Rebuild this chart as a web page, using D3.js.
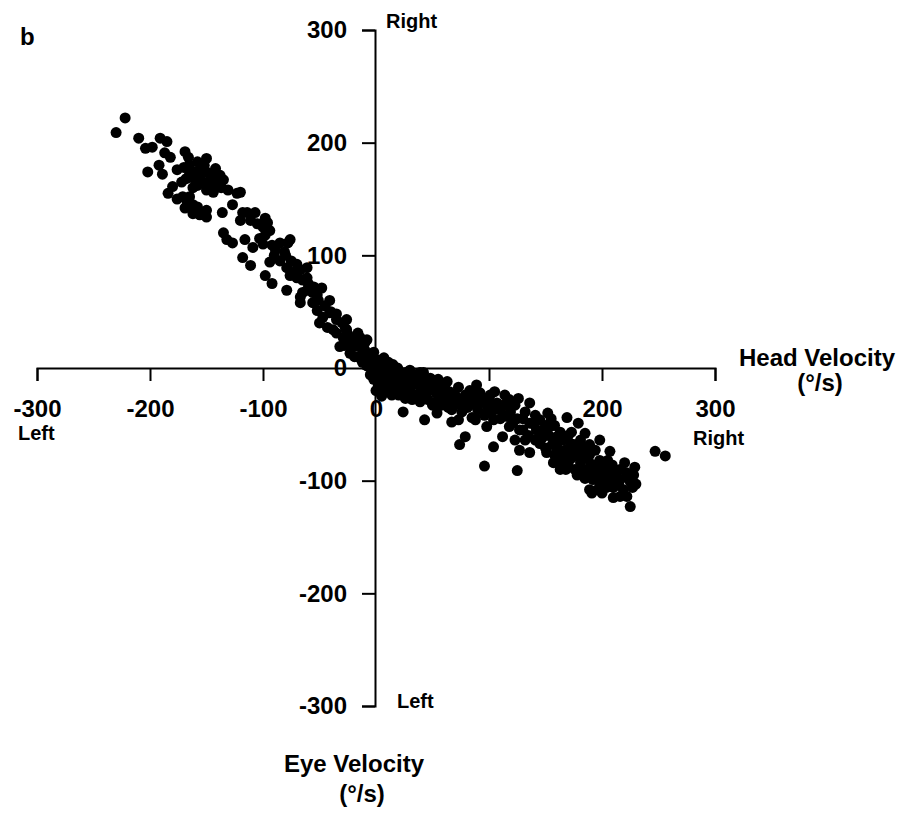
<!DOCTYPE html>
<html>
<head>
<meta charset="utf-8">
<script src="https://cdn.jsdelivr.net/npm/d3@7"></script>
<style>
  body { margin: 0; background: #fff; }
  text { font-family: "Liberation Sans", Arial, sans-serif; fill: #000; }
</style>
</head>
<body>
<div id="chart"></div>
<script>
// Head velocity (x) vs eye velocity (y), deg/s
const tickValues = [-300, -200, -100, 0, 100, 200, 300];

// head turning left, eye moving right
const leftArm = [
  [-230,209],[-222,222],[-210,204],[-204,195],[-198,196],[-191,204],[-185,201],[-187,191],[-182,187],
  [-169,192],[-166,187],[-192,180],[-202,174],[-189,172],[-176,176],[-172,165],[-165,180],[-160,174],
  [-158,183],[-150,186],[-163,169],[-156,169],[-153,164],[-147,167],[-142,177],[-138,171],[-135,167],
  [-150,158],[-144,156],[-131,158],[-123,155],[-120,156],[-184,155],[-180,161],[-171,152],[-167,147],
  [-162,145],[-158,143],[-169,142],[-162,137],[-156,136],[-150,134],[-127,145],[-136,138],[-118,138],
  [-120,131],[-153,137],[-114,138],[-107,138],[-111,131],[-98,133],[-96,129],[-100,125],[-94,122],
  [-135,120],[-132,114],[-127,111],[-116,114],[-109,107],[-103,115],[-98,118],[-92,109],[-89,105],
  [-85,111],[-78,111],[-81,103],[-76,114],[-118,98],[-111,91],[-94,94],[-98,82],[-92,75],[-79,89],
  [-73,85],[-67,87],[-61,89],[-70,80],[-61,80],[-76,82],[-79,69],[-67,63],[-61,69],[-56,67],[-48,71],
  [-51,60],[-41,60],[-65,67],[-67,58],[-56,58],[-52,51],[-47,45],[-41,49],[-50,40],[-43,36],[-38,34],
  [-35,43],[-26,43],[-26,34],[-29,27],[-32,19],[-20,19],[-14,27],[-8,25],[-12,16],[-23,13],[-17,10],
  [-16,31],[-14,10],[-8,9],[-35,31],[-27,35],
  [-170,178],[-165,172],[-160,168],[-155,176],[-150,174],[-145,170],[-140,165],[-152,180],[-158,162],
  [-148,160],[-162,160],[-168,168],[-143,162],[-137,160],[-176,150],[-165,152],[-160,140],[-150,140],
  [-105,128],[-100,110],[-90,100],[-85,95],[-80,100],[-75,95],[-70,92],[-65,78],[-60,75],[-55,72],
  [-52,65],[-45,55],[-40,50],[-35,48],[-30,40],[-25,30],[-20,25],[-15,20],[-10,22],[-22,22],[-28,20]
];

// dense cloud around the origin
const centerBlob = [
  [-10,16],[-5,12],[-4,5],[2,7],[5,3],[11,5],[15,3],[19,0],[8,-4],[12,-6],[4,-9],[17,-11],[21,-6],
  [26,-4],[30,-2],[35,-6],[39,-4],[30,-12],[37,-15],[43,-11],[48,-9],[21,-18],[28,-21],[35,-24],
  [41,-20],[48,-18],[52,-15],[57,-21],[61,-18],[65,-21],[70,-24],[55,-28],[46,-28],[39,-30],[32,-28],
  [50,-33],[61,-30],[74,-28],[79,-24],[83,-28],[88,-24],[92,-30],[81,-35],[90,-37],[98,-33],[76,-39],
  [67,-37],[-1,-2],[-7,3],[2,-15],[8,-20],[14,-24],[-14,20],[-19,10],[-12,5],[-5,-6],[17,-20],[26,-27],
  [83,-20],[101,-24],[105,-37],[96,-42],[85,-44],[73,-46],
  [0,0],[5,-3],[10,0],[14,-2],[3,2],[-3,8],[7,9],[20,-2],[24,-10],[28,-8],[33,-14],[40,-10],[45,-16],
  [53,-22],[58,-14],[63,-24],[68,-28],[72,-32],[77,-30],[85,-32],[95,-28],[10,-13],[15,-16],[20,-24],
  [25,-15],[30,-20],[38,-26],[44,-23],[58,-33],[64,-35],[55,-10],[42,-4],[1,-6],[6,-10],[-2,-10],
  [-8,2],[-2,14],[0,-20],[5,-25],[3,-10]
];

// head turning right, eye moving left
const rightArm = [
  [24,-39],[43,-46],[50,-11],[63,-12],[73,-17],[89,-15],[67,-48],[79,-61],[74,-68],[104,-70],[54,-40],
  [88,-46],[98,-52],[96,-87],[112,-61],[125,-91],[126,-27],[136,-31],[152,-40],[169,-44],[179,-49],
  [185,-58],[198,-64],[207,-74],[191,-111],[200,-111],[225,-123],[229,-88],[220,-84],[247,-74],
  [256,-78],[210,-106],[216,-114],[92,-22],[107,-31],[98,-40],[104,-46],[110,-37],[116,-43],[121,-49],
  [127,-55],[136,-49],[142,-55],[148,-58],[154,-52],[160,-61],[165,-64],[172,-67],[127,-73],[136,-75],
  [145,-67],[151,-75],[157,-84],[163,-90],[169,-82],[174,-75],[181,-84],[187,-90],[192,-99],[198,-102],
  [187,-70],[181,-64],[189,-108],[204,-106],[216,-99],[222,-93],[205,-82],[213,-93],[222,-97],
  [225,-101],[219,-108],[227,-106],[222,-114],[196,-108],[114,-33],[119,-39],[123,-33],[132,-39],
  [141,-42],[145,-46],[150,-51],[158,-51],[163,-57],[156,-68],[150,-71],[141,-64],[132,-64],[123,-64],
  [158,-77],[167,-73],[173,-57],[176,-77],[183,-80],[189,-77],[194,-86],[203,-90],[207,-95],[196,-93],
  [185,-98],[176,-90],[163,-82],[198,-82],[209,-86],[216,-90],[189,-68],[194,-73],[114,-24],[105,-21],
  [100,-30],[110,-45],[118,-52],[125,-45],[130,-55],[135,-60],[140,-50],[147,-62],[153,-60],[160,-70],
  [165,-75],[170,-85],[175,-68],[180,-72],[185,-78],[190,-85],[195,-90],[200,-95],[205,-100],[210,-98],
  [215,-104],[200,-88],[170,-60],[155,-45],[145,-56],[130,-45],[118,-28],[178,-95],[184,-92],[173,-80],
  [168,-90],[190,-95],[210,-115],[228,-95],[230,-103]
];

const points = leftArm.concat(centerBlob, rightArm);

const width = 901;
const height = 814;

const svg = d3.select("#chart")
  .append("svg")
  .attr("width", width)
  .attr("height", height);

const xScale = d3.scaleLinear().domain([-300, 300]).range([37, 715]);
const yScale = d3.scaleLinear().domain([-300, 300]).range([706, 30]);

const xAxis = d3.axisBottom(xScale)
  .tickValues(tickValues)
  .tickSize(13)
  .tickPadding(19)
  .tickFormat(d => String(d));

const yAxis = d3.axisLeft(yScale)
  .tickValues(tickValues)
  .tickSize(13)
  .tickPadding(15)
  .tickFormat(d => String(d));

const styleAxis = (g) => {
  g.selectAll("path.domain").attr("stroke", "#000").attr("stroke-width", 2);
  g.selectAll(".tick line").attr("stroke", "#000").attr("stroke-width", 2);
  g.selectAll(".tick text")
    .attr("fill", "#000")
    .style("font-size", "24px")
    .style("font-weight", "bold")
    .style("font-family", '"Liberation Sans", Arial, sans-serif');
};

svg.append("g")
  .attr("class", "x-axis")
  .attr("transform", `translate(0, ${yScale(0)})`)
  .call(xAxis)
  .call(styleAxis);

svg.append("g")
  .attr("class", "y-axis")
  .attr("transform", `translate(${xScale(0) - 1}, 0)`)
  .call(yAxis)
  .call(styleAxis);

// Data points
svg.append("g")
  .selectAll("circle")
  .data(points)
  .enter()
  .append("circle")
  .attr("cx", d => xScale(d[0]))
  .attr("cy", d => yScale(d[1]))
  .attr("r", 5.5)
  .attr("fill", "#000");

// Labels
const label = (txt, x, y, size, anchor = "start") =>
  svg.append("text")
    .attr("x", x)
    .attr("y", y)
    .attr("text-anchor", anchor)
    .style("font-size", size + "px")
    .style("font-weight", "bold")
    .text(txt);

label("b", 20, 45, 24);
label("Right", 386, 28, 20);
label("Left", 397, 708, 20);
label("Left", 18, 440, 20);
label("Right", 693, 445, 20);
label("Head Velocity", 817, 366, 24, "middle");
label("(°/s)", 820, 391, 24, "middle");
label("Eye Velocity", 354, 772, 24, "middle");
label("(°/s)", 362, 802, 24, "middle");
</script>
</body>
</html>
